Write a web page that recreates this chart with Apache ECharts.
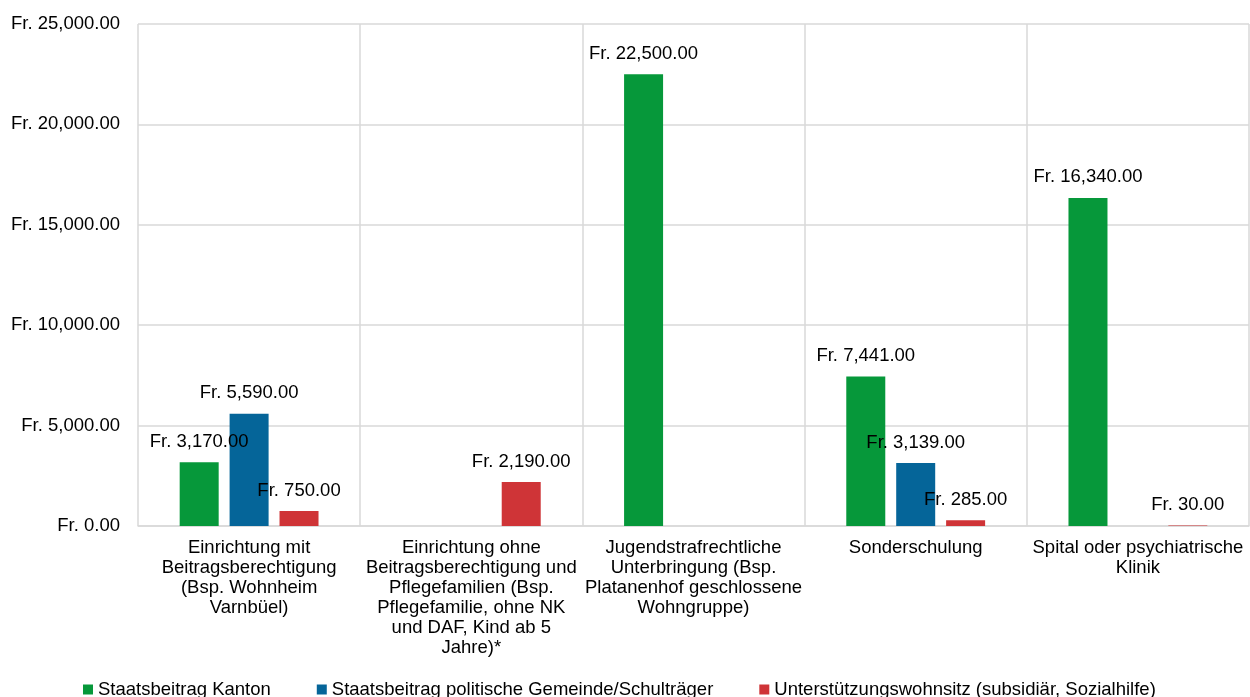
<!DOCTYPE html>
<html lang="de">
<head>
<meta charset="UTF-8">
<title>Beiträge</title>
<script src="https://cdn.jsdelivr.net/npm/echarts@6/dist/echarts.min.js"></script>
<style>
  html, body { margin: 0; padding: 0; background: #fff; }
  #chart { width: 1250px; height: 697px; }
</style>
</head>
<body>
<div id="chart"></div>
<script>
  var categories = [
    'Einrichtung mit\nBeitragsberechtigung\n(Bsp. Wohnheim\nVarnbüel)',
    'Einrichtung ohne\nBeitragsberechtigung und\nPflegefamilien (Bsp.\nPflegefamilie, ohne NK\nund DAF, Kind ab 5\nJahre)*',
    'Jugendstrafrechtliche\nUnterbringung (Bsp.\nPlatanenhof geschlossene\nWohngruppe)',
    'Sonderschulung',
    'Spital oder psychiatrische\nKlinik'
  ]
  var kanton = [3170, null, 22500, 7441, 16340]
  var gemeinde = [5590, null, null, 3139, null]
  var unterstuetzung = [750, 2190, null, 285, 30]
  var seriesNames = [
    'Staatsbeitrag Kanton',
    'Staatsbeitrag politische Gemeinde/Schulträger',
    'Unterstützungswohnsitz (subsidiär, Sozialhilfe)'
  ]
  var colors = ['#06983a', '#056599', '#cf3437']

  function fr(v) {
    var s = Number(v).toFixed(2).split('.')
    s[0] = s[0].replace(/\B(?=(\d{3})+(?!\d))/g, ',')
    return 'Fr. ' + s.join('.')
  }

  var font = 'Liberation Sans, Arial, sans-serif'
  var fs = 18.5

  function bar(name, data, color) {
    return {
      name: name,
      type: 'bar',
      data: data,
      barWidth: 39,
      barGap: '28%',
      itemStyle: { color: color },
      label: {
        show: true,
        position: 'top',
        distance: 11,
        color: '#000',
        fontFamily: font,
        fontSize: fs,
        formatter: function (p) { return fr(p.value) }
      }
    }
  }

  var chart = echarts.init(document.getElementById('chart'), null, { renderer: 'canvas' })
  var option = {
    animation: false,
    color: colors,
    textStyle: { fontFamily: font },
    grid: { left: 138, right: 1, top: 24, bottom: 171, containLabel: false },
    legend: {
      left: 78,
      top: 675,
      icon: 'rect',
      itemWidth: 10,
      itemHeight: 10,
      itemGap: 46,
      textStyle: { fontFamily: font, fontSize: fs, color: '#000' },
      data: seriesNames
    },
    xAxis: {
      type: 'category',
      data: categories,
      axisTick: { show: false },
      axisLine: { lineStyle: { color: '#d9d9d9', width: 1.5 } },
      splitLine: { show: true, lineStyle: { color: '#d9d9d9', width: 1.5 } },
      axisLabel: {
        interval: 0,
        margin: 12,
        color: '#000',
        fontFamily: font,
        fontSize: fs,
        lineHeight: 20
      }
    },
    yAxis: {
      type: 'value',
      min: 0,
      max: 25000,
      interval: 5000,
      axisLine: { show: false },
      axisTick: { show: false },
      splitLine: { lineStyle: { color: '#d9d9d9', width: 1.5 } },
      axisLabel: {
        margin: 18,
        color: '#000',
        fontFamily: font,
        fontSize: fs,
        formatter: fr
      }
    },
    series: [
      bar(seriesNames[0], kanton, colors[0]),
      bar(seriesNames[1], gemeinde, colors[1]),
      bar(seriesNames[2], unterstuetzung, colors[2])
    ]
  }
  chart.setOption(option)
  window.addEventListener('resize', chart.resize)
</script>
</body>
</html>
